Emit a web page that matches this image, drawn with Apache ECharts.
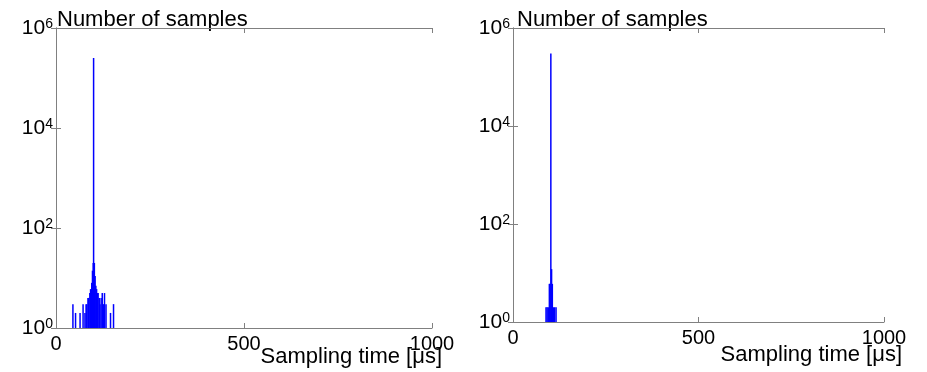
<!DOCTYPE html>
<html>
<head>
<meta charset="utf-8">
<script src="https://cdn.jsdelivr.net/npm/echarts@6/dist/echarts.min.js"></script>
<style>
  html, body { margin: 0; background: #fff; }
  #chart { width: 927px; height: 372px; }
</style>
</head>
<body>
<div id="chart"></div>
<script>
// histogram bins: sampling time [us] -> number of samples
const leftTimes  = [45, 52, 64, 72, 77, 80, 82, 85, 87, 90, 92, 95, 97, 99, 100, 102, 104, 106, 108, 110, 112, 115, 117, 120, 123, 126, 129, 133, 145, 153];
const leftCounts = [3, 2, 2, 3, 2, 3, 3, 4, 4, 5, 6, 8, 14, 20, 250000, 20, 11, 7, 6, 5, 5, 4, 3, 4, 5, 3, 5, 3, 2, 3];
const rightTimes  = [89, 92, 95, 98, 100, 102, 104, 106, 109, 112, 116];
const rightCounts = [2, 2, 2, 6, 6, 300000, 12, 6, 2, 2, 2];

const xTicks = [0, 500, 1000];
const yMin = 1, yMax = 1e6;
const xTitle = 'Sampling time [μs]';
const yTitle = 'Number of samples';

const font = "'Liberation Sans', Arial, sans-serif";
const lineColor = '#808080';

const pairs = (xs, ys) => xs.map((x, i) => [x, ys[i]]);

function xAxes(gridIndex) {
  const base = {
    gridIndex,
    type: 'value',
    min: xTicks[0],
    max: xTicks[xTicks.length - 1],
    interval: xTicks[1] - xTicks[0],
    splitLine: { show: false },
    axisLine: { show: true, lineStyle: { color: lineColor, width: 1 } },
    axisTick: { show: true, inside: true, length: 5, lineStyle: { color: lineColor } }
  };
  return [
    Object.assign({}, base, {
      position: 'bottom',
      axisLabel: { show: true, color: '#000', fontFamily: font, fontSize: 20, margin: 6,
        formatter: v => String(v) }
    }),
    Object.assign({}, base, { position: 'top', axisLabel: { show: false } })
  ];
}

function yAxes(gridIndex) {
  const base = {
    gridIndex,
    type: 'log',
    logBase: 10,
    min: yMin,
    max: yMax,
    interval: 2,
    splitLine: { show: false },
    minorTick: { show: false },
    axisLine: { show: true, lineStyle: { color: lineColor, width: 1 } },
    axisTick: { show: true, inside: true, length: 5, lineStyle: { color: lineColor } }
  };
  return [
    Object.assign({}, base, {
      position: 'left',
      axisLabel: {
        show: true, margin: 3,
        formatter: v => '{b|10}{s|' + Math.round(Math.log10(v)) + '}',
        rich: {
          b: { fontFamily: font, fontSize: 21, color: '#000', lineHeight: 21, verticalAlign: 'bottom', padding: [5, 0, 0, 0] },
          s: { fontFamily: font, fontSize: 14, color: '#000', lineHeight: 14, verticalAlign: 'top' }
        }
      }
    }),
    Object.assign({}, base, { position: 'right', axisLabel: { show: false } })
  ];
}

function label(text, x, y, align) {
  return {
    type: 'text', x, y,
    style: { text, fill: '#000', font: '22px ' + font, align, verticalAlign: 'middle' }
  };
}

const chart = echarts.init(document.getElementById('chart'), null, { renderer: 'canvas' });

chart.setOption({
  animation: false,
  backgroundColor: '#fff',
  grid: [
    { left: 56, top: 28, width: 376, height: 300, outerBoundsMode: 'none' },
    { left: 513, top: 28, width: 371, height: 294, outerBoundsMode: 'none' }
  ],
  xAxis: [...xAxes(0), ...xAxes(1)],
  yAxis: [...yAxes(0), ...yAxes(1)],
  graphic: [
    label(yTitle, 57, 20, 'left'),
    label(yTitle, 517, 20, 'left'),
    label(xTitle, 442, 357, 'right'),
    label(xTitle, 902, 355, 'right')
  ],
  series: [
    {
      type: 'bar', xAxisIndex: 0, yAxisIndex: 0,
      barWidth: 1.5,
      itemStyle: { color: '#0000ff' },
      data: pairs(leftTimes, leftCounts)
    },
    {
      type: 'bar', xAxisIndex: 2, yAxisIndex: 2,
      barWidth: 1.5,
      itemStyle: { color: '#0000ff' },
      data: pairs(rightTimes, rightCounts)
    }
  ]
});

window.addEventListener('resize', () => chart.resize());
</script>
</body>
</html>
